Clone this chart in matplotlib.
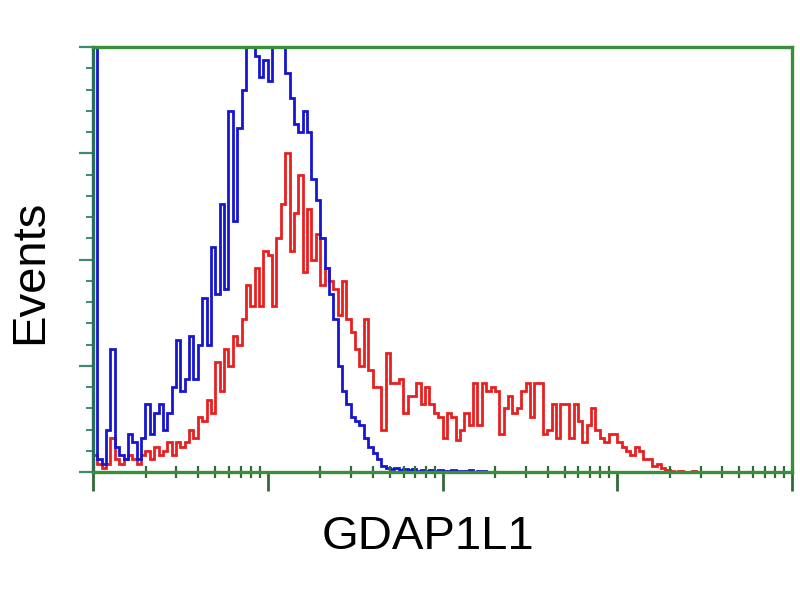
import numpy as np
import matplotlib
matplotlib.use("Agg")
import matplotlib.pyplot as plt
from matplotlib.ticker import LogLocator, MultipleLocator, NullFormatter

# channels: 40 per decade, 4 decades (1 .. 10^4)
channels_per_decade = 40
n_channels = 160

# control (blue) histogram, events per channel (axis top = 100)
control_counts = [
    130, 3, 2, 10, 29, 6, 4, 3, 9, 7,
    3, 8, 16, 9, 14, 16, 10, 14, 20, 31,
    19, 22, 32, 22, 30, 41, 30, 53, 42, 63,
    43, 85, 59, 81, 90, 115, 105, 98, 93, 97,
    92, 110, 120, 105, 94, 88, 82, 80, 85, 80,
    69, 64, 55, 48, 42, 36, 25, 19, 16, 13,
    12, 11, 8, 6, 4.5, 3, 1.5, 1, 0.8, 1,
    0.5, 0.8, 0.4, 0.6, 0.3, 0.5, 0.3, 0.5, 0.2, 0.4,
    0.2, 0.3, 0.5, 0.2, 0.3, 0.2, 0.4, 0.1, 0.3, 0.2,
] + [0] * 70

# GDAP1L1 transfected (red) histogram
sample_counts = [
    4, 2, 1, 2, 8, 3, 2, 3, 4, 3,
    2, 4, 5, 3, 6, 4, 5, 7, 4, 7,
    6, 7, 10, 8, 13, 12, 17, 14, 26, 19,
    29, 25, 32, 30, 36, 44, 39, 48, 39, 52,
    51, 39, 55, 63, 75, 52, 61, 70, 47, 62,
    50, 56, 44, 48, 45, 43, 37, 45, 36, 33,
    29, 25, 36, 24, 20, 20, 10, 28, 21, 21,
    22, 14, 18, 18, 21, 16, 20, 16, 14, 13,
    8, 14, 13, 7.5, 10, 14, 11, 21, 11, 21,
    19, 20, 19, 9, 15, 18, 14, 15, 19, 21,
    13, 21, 21, 9, 10, 16, 8, 16, 16, 8,
    16, 12, 7, 11, 15, 10, 8, 7, 9, 9,
    7, 6, 5, 4, 6, 5, 3, 3, 1.5, 2,
    1, 0.5, 0.3, 0, 0.2, 0, 0, 0.2, 0, 0,
] + [0] * 20

edges = 10 ** (np.arange(n_channels + 1) / channels_per_decade)

plt.rcParams['font.family'] = ['Liberation Sans', 'DejaVu Sans']
fig = plt.figure(figsize=(8, 6), dpi=100)
ax = fig.add_axes([93 / 800, 1 - 472 / 600, 699 / 800, 425 / 600])

ax.stairs(sample_counts, edges, baseline=0, color='#e82020', lw=2.0)
ax.stairs(control_counts, edges, baseline=0, color='#1616d0', lw=2.0)

ax.set_xscale('log')
ax.set_xlim(1, 1e4)
ax.set_ylim(0, 100)

frame_green = '#3a8f3a'
for side in ['top', 'right', 'bottom']:
    ax.spines[side].set_color(frame_green)
    ax.spines[side].set_linewidth(2.4)
ax.spines['left'].set_color('#2a6f55')
ax.spines['left'].set_linewidth(2.4)

ax.xaxis.set_major_locator(LogLocator(base=10, numticks=10))
ax.xaxis.set_minor_locator(LogLocator(base=10, subs=np.arange(2, 10), numticks=10))
ax.xaxis.set_major_formatter(NullFormatter())
ax.xaxis.set_minor_formatter(NullFormatter())
ax.yaxis.set_major_locator(MultipleLocator(25))
ax.yaxis.set_minor_locator(MultipleLocator(5))
ax.yaxis.set_major_formatter(NullFormatter())

ax.tick_params(axis='x', which='major', direction='out', length=14, width=2, color='#2f6a3a')
ax.tick_params(axis='x', which='minor', direction='inout', length=8, width=1.6, color='#2f6a3a')
ax.tick_params(axis='y', which='major', direction='out', length=10, width=1.6, color='#3f8a6a')
ax.tick_params(axis='y', which='minor', direction='out', length=5, width=1.4, color='#3f8a6a')

fig.text(428 / 800, 1 - 537 / 600, 'GDAP1L1', ha='center', va='center', fontsize=34)
fig.text(30 / 800, 1 - 272 / 600, 'Events', ha='center', va='center', rotation=90, fontsize=34)

fig.savefig('out.png', dpi=100)
